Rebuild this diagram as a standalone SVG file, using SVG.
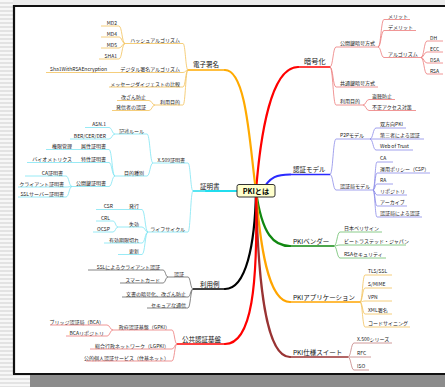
<svg xmlns="http://www.w3.org/2000/svg" width="445" height="387" viewBox="0 0 445 387">
<defs>
<pattern id="stripes" width="4" height="4" patternUnits="userSpaceOnUse"><rect width="4" height="4" fill="#f7f7f7"/><rect y="2" width="4" height="2" fill="#e3e3e3"/></pattern>
<style>
.t{font-family:"Noto Sans CJK JP","Noto Sans",sans-serif;font-size:5px;fill:#222}
.tm{font-family:"Noto Sans CJK JP","Noto Sans",sans-serif;font-size:6.5px;fill:#111}
.te{text-anchor:end}
.u{fill:none;stroke-width:0.8}
.um{fill:none;stroke-width:1.5}
.m{fill:none;stroke-width:2.2;stroke-linecap:round}
.cr{stroke:#ec7b7b}.cb{stroke:#8c8ce8}.cg{stroke:#6cbf6c}.co{stroke:#f3c15a}.cn{stroke:#c48282}.cy{stroke:#7fe5f2}.ck{stroke:#666}
</style>
</defs>
<rect width="445" height="387" fill="url(#stripes)"/>
<rect x="13" y="0" width="432" height="6" fill="#ececec"/>
<rect x="30" y="375" width="415" height="12" fill="#8c8c8c"/>
<rect x="15" y="7" width="430" height="366" fill="#fff"/>
<path d="M14 374 V6 H445" fill="none" stroke="#111" stroke-width="2.2"/>
<path d="M13 374 H445" stroke="#111" stroke-width="2.2"/>

<g id="connectors">
<path class="m" stroke="#ff0000" d="M256 191 C260 140 270 67 298 67"/>
<path class="m" stroke="#ffaa00" d="M256 191 C250 150 247 70 225 70"/>
<path class="m" stroke="#22ddee" d="M240 191 H206"/>
<path class="m" stroke="#2a2aff" stroke-width="1.6" d="M262 191 C270 176 278 174.5 290 174.5"/>
<path class="m" stroke="#118811" d="M256 191 C262 235 274 246 290 246"/>
<path class="m" stroke="#ffa500" d="M256 191 C260 245 268 302 290 302"/>
<path class="m" stroke="#993333" d="M256 191 C258 285 266 357 290 357"/>
<path class="m" stroke="#000000" d="M256 191 C255 245 246 289 225 289"/>
<path class="m" stroke="#ff0000" d="M256 191 C258 285 252 344 225 344"/>

<g class="u cr">
<path d="M330 67 C333 67 333 47 336 47 M330 67 C333 67 333 87 336 87 M330 67 C333 67 333 105 336 105"/>
<path d="M378 47 C381 47 381 19.5 384 19.5 M378 47 C381 47 381 30.5 384 30.5 M378 47 C381 47 381 57.5 384 57.5"/>
<path d="M421 57.5 C424 57.5 424 41 427 41 M421 57.5 C424 57.5 424 52 427 52 M421 57.5 C424 57.5 424 63 427 63 M421 57.5 C424 57.5 424 74 427 74"/>
<path d="M363 105 C366 105 366 99.5 369 99.5 M363 105 C366 105 366 110.5 369 110.5"/>
</g>
<g class="u cb">
<path d="M330 174.5 C333 174.5 333 139 336 139 M330 174.5 C333 174.5 333 190 336 190"/>
<path d="M370 139 C373 139 373 128 376 128 M370 139 H376 M370 139 C373 139 373 150 376 150"/>
<path d="M373 190 C375 190 375 162 377 162 M373 190 C375 190 375 173 377 173 M373 190 C375 190 375 184 377 184 M373 190 C375 190 375 195 377 195 M373 190 C375 190 375 206 377 206 M373 190 C375 190 375 217 377 217"/>
</g>
<g class="u cg">
<path d="M334 246 C337 246 337 232 340 232 M334 246 C337 246 337 245 340 245 M334 246 C337 246 337 258 340 258"/>
</g>
<g class="u co">
<path d="M360 302 C362.5 302 362.5 275 365 275 M360 302 C362.5 302 362.5 288 365 288 M360 302 C362.5 302 362.5 301 365 301 M360 302 C362.5 302 362.5 314 365 314 M360 302 C362.5 302 362.5 327 365 327"/>
<path d="M188 70 C185.5 70 185.5 43.5 183 43.5 M188 70 C185.5 70 185.5 72.5 183 72.5 M188 70 C185.5 70 185.5 87 183 87 M188 70 C185.5 70 185.5 105 183 105"/>
<path d="M125 43.5 C122 43.5 122 26 119 26 M125 43.5 C122 43.5 122 37 119 37 M125 43.5 C122 43.5 122 48 119 48 M125 43.5 C122 43.5 122 59 119 59"/>
<path d="M115 72.5 H109"/>
<path d="M155 105 C152 105 152 100.5 149 100.5 M155 105 C152 105 152 110.5 149 110.5"/>
</g>
<g class="u cn">
<path d="M348 357 C351 357 351 343 354 343 M348 357 H354 M348 357 C351 357 351 370 354 370"/>
</g>
<g class="u cy">
<path d="M193 191 C190.5 191 190.5 163 188 163 M193 191 C190.5 191 190.5 232 188 232"/>
<path d="M153 163 C150 163 150 134 147 134 M153 163 C150 163 150 176 147 176"/>
<path d="M115 134 C112 134 112 127.5 109 127.5 M115 134 C112 134 112 139 109 139"/>
<path d="M115 176 C112 176 112 149.5 109 149.5 M115 176 C112 176 112 162.5 109 162.5 M115 176 C112 176 112 186.5 109 186.5"/>
<path d="M72 186.5 C69 186.5 69 176 66 176 M72 186.5 C69 186.5 69 187 66 187 M72 186.5 C69 186.5 69 197 66 197"/>
<path d="M148 232 C145 232 145 209.5 142 209.5 M148 232 C145 232 145 227 142 227 M148 232 C145 232 145 243 142 243 M148 232 C145 232 145 254.5 142 254.5"/>
<path d="M118 227 C115.5 227 115.5 221 113 221 M118 227 C115.5 227 115.5 232 113 232"/>
</g>
<g class="u ck">
<path d="M193 289 C190.5 289 190.5 277 188 277 M193 289 C190.5 289 190.5 297 188 297 M193 289 C190.5 289 190.5 308 188 308"/>
<path d="M168 277 C165.5 277 165.5 270 163 270 M168 277 C165.5 277 165.5 283 163 283"/>
</g>
<g class="u cr">
<path d="M177 344 C174.5 344 174.5 330 172 330 M177 344 C174.5 344 174.5 349 172 349 M177 344 C174.5 344 174.5 361 172 361"/>
<path d="M113 330 C110 330 110 325 107 325 M113 330 C110 330 110 336 107 336"/>
</g>
</g>

<g id="n-angou"><text class="tm" x="304" y="64" style="font-size:7.2px">暗号化</text><path class="um" stroke="#ff0000" d="M298 67 H330"/></g>
<g id="n-kokai"><text class="t" x="340" y="45">公開鍵暗号方式</text><path class="u cr" d="M336 47 H378"/></g>
<g id="n-merit"><text class="t" x="388" y="18">メリット</text><path class="u cr" d="M384 19.5 H410"/></g>
<g id="n-demerit"><text class="t" x="388" y="29">デメリット</text><path class="u cr" d="M384 30.5 H416"/></g>
<g id="n-algo"><text class="t" x="388" y="56">アルゴリズム</text><path class="u cr" d="M384 57.5 H421"/></g>
<g id="n-dh"><text class="t" x="430" y="39.5">DH</text><path class="u cr" d="M427 41 H443"/></g>
<g id="n-ecc"><text class="t" x="430" y="50.5">ECC</text><path class="u cr" d="M427 52 H443"/></g>
<g id="n-dsa"><text class="t" x="430" y="61.5">DSA</text><path class="u cr" d="M427 63 H443"/></g>
<g id="n-rsa"><text class="t" x="430" y="72.5">RSA</text><path class="u cr" d="M427 74 H443"/></g>
<g id="n-kyotsu"><text class="t" x="340" y="85">共通鍵暗号方式</text><path class="u cr" d="M336 87 H378"/></g>
<g id="n-riyo1"><text class="t" x="340" y="103">利用目的</text><path class="u cr" d="M336 105 H363"/></g>
<g id="n-tocho"><text class="t" x="372" y="98">盗聴防止</text><path class="u cr" d="M369 99.5 H395"/></g>
<g id="n-fusei"><text class="t" x="372" y="109">不正アクセス対策</text><path class="u cr" d="M369 110.5 H416"/></g>

<g id="n-ninsho"><text class="tm" x="293" y="171.5">認証モデル</text><path class="um" stroke="#2a2aff" d="M290 174.5 H330"/></g>
<g id="n-p2p"><text class="t" x="340" y="137">P2Pモデル</text><path class="u cb" d="M336 139 H370"/></g>
<g id="n-sohoko"><text class="t" x="380" y="126">双方向PKI</text><path class="u cb" d="M376 128 H406"/></g>
<g id="n-daisan"><text class="t" x="380" y="137">第三者による認証</text><path class="u cb" d="M376 139 H424"/></g>
<g id="n-wot"><text class="t" x="380" y="148">Web of Trust</text><path class="u cb" d="M376 150 H413"/></g>
<g id="n-cam"><text class="t" x="340" y="188">認証局モデル</text><path class="u cb" d="M336 190 H373"/></g>
<g id="n-ca"><text class="t" x="380" y="160">CA</text><path class="u cb" d="M377 162 H393"/></g>
<g id="n-unyo"><text class="t" x="380" y="171">運用ポリシー（CSP）</text><path class="u cb" d="M377 173 H430"/></g>
<g id="n-ra"><text class="t" x="380" y="182">RA</text><path class="u cb" d="M377 184 H393"/></g>
<g id="n-repo"><text class="t" x="380" y="193">リポジトリ</text><path class="u cb" d="M377 195 H407"/></g>
<g id="n-archive"><text class="t" x="380" y="204">アーカイブ</text><path class="u cb" d="M377 206 H407"/></g>
<g id="n-cani"><text class="t" x="380" y="215">認証局による認証</text><path class="u cb" d="M377 217 H422"/></g>

<g id="n-vendor"><text class="tm" x="293" y="243.5">PKIベンダー</text><path class="um" stroke="#118811" d="M290 246 H334"/></g>
<g id="n-verisign"><text class="t" x="344" y="230">日本ベリサイン</text><path class="u cg" d="M340 232 H382"/></g>
<g id="n-betrusted"><text class="t" x="344" y="243">ビートラステッド・ジャパン</text><path class="u cg" d="M340 245 H406"/></g>
<g id="n-rsasec"><text class="t" x="344" y="256">RSAセキュリティ</text><path class="u cg" d="M340 258 H386"/></g>

<g id="n-app"><text class="tm" x="293" y="299.5">PKIアプリケーション</text><path class="um" stroke="#ffa500" d="M290 302 H360"/></g>
<g id="n-tls"><text class="t" x="368" y="273">TLS/SSL</text><path class="u co" d="M365 275 H392"/></g>
<g id="n-smime"><text class="t" x="368" y="286">S/MIME</text><path class="u co" d="M365 288 H392"/></g>
<g id="n-vpn"><text class="t" x="368" y="299">VPN</text><path class="u co" d="M365 301 H392"/></g>
<g id="n-xml"><text class="t" x="368" y="312">XML署名</text><path class="u co" d="M365 314 H392"/></g>
<g id="n-code"><text class="t" x="368" y="325">コードサイニング</text><path class="u co" d="M365 327 H410"/></g>

<g id="n-suite"><text class="tm" x="293" y="354.5">PKI仕様スイート</text><path class="um" stroke="#993333" d="M290 357 H348"/></g>
<g id="n-x500"><text class="t" x="357" y="341">X.500シリーズ</text><path class="u cn" d="M354 343 H392"/></g>
<g id="n-rfc"><text class="t" x="357" y="355">RFC</text><path class="u cn" d="M354 357 H371"/></g>
<g id="n-iso"><text class="t" x="357" y="368">ISO</text><path class="u cn" d="M354 370 H369"/></g>

<g id="n-denshi"><text class="tm" x="193" y="67">電子署名</text><path class="um" stroke="#ffaa00" d="M188 70 H225"/></g>
<g id="n-hash"><text class="t te" x="180" y="42">ハッシュアルゴリズム</text><path class="u co" d="M125 43.5 H183"/></g>
<g id="n-md2"><text class="t te" x="117" y="24.5">MD2</text><path class="u co" d="M101 26 H119"/></g>
<g id="n-md4"><text class="t te" x="117" y="35.5">MD4</text><path class="u co" d="M101 37 H119"/></g>
<g id="n-md5"><text class="t te" x="117" y="46.5">MD5</text><path class="u co" d="M101 48 H119"/></g>
<g id="n-sha1"><text class="t te" x="117" y="57.5">SHA1</text><path class="u co" d="M99 59 H119"/></g>
<g id="n-dsig"><text class="t te" x="180" y="71">デジタル署名アルゴリズム</text><path class="u co" d="M115 72.5 H183"/></g>
<g id="n-sha1rsa"><text class="t te" x="107" y="71">Sha1WithRSAEncryption</text><path class="u co" d="M46 72.5 H109"/></g>
<g id="n-msg"><text class="t te" x="180" y="85.5">メッセージダイジェストの比較</text><path class="u co" d="M109 87 H183"/></g>
<g id="n-riyo2"><text class="t te" x="180" y="103.5">利用目的</text><path class="u co" d="M155 105 H183"/></g>
<g id="n-kaizan"><text class="t te" x="146" y="99">改ざん防止</text><path class="u co" d="M117 100.5 H149"/></g>
<g id="n-hasshin"><text class="t te" x="146" y="109">発信者の認証</text><path class="u co" d="M112 110.5 H149"/></g>

<g id="n-shomei"><text class="tm" x="200" y="188.5">証明書</text><path class="um" stroke="#22ddee" d="M193 191 H237"/></g>
<g id="n-x509"><text class="t te" x="185" y="161.5">X.509証明書</text><path class="u cy" d="M153 163 H188"/></g>
<g id="n-kijutsu"><text class="t te" x="144" y="132.5">記述ルール</text><path class="u cy" d="M115 134 H147"/></g>
<g id="n-asn"><text class="t te" x="106" y="126">ASN.1</text><path class="u cy" d="M85 127.5 H109"/></g>
<g id="n-ber"><text class="t te" x="106" y="137.5">BER/CER/DER</text><path class="u cy" d="M70 139 H109"/></g>
<g id="n-mokuteki"><text class="t te" x="144" y="174.5">目的種別</text><path class="u cy" d="M115 176 H147"/></g>
<g id="n-zokusei"><text class="t te" x="106" y="148">属性証明書</text><path class="u cy" d="M77 149.5 H109"/></g>
<g id="n-kengen"><text class="t te" x="72" y="148">権限管理</text><path class="u cy" d="M46 149.5 H77"/></g>
<g id="n-tokusei"><text class="t te" x="106" y="161">特性証明書</text><path class="u cy" d="M77 162.5 H109"/></g>
<g id="n-bio"><text class="t te" x="72" y="161">バイオメトリクス</text><path class="u cy" d="M27 162.5 H77"/></g>
<g id="n-kokaicert"><text class="t te" x="106" y="185">公開鍵証明書</text><path class="u cy" d="M72 186.5 H109"/></g>
<g id="n-cacert"><text class="t te" x="63" y="174.5">CA証明書</text><path class="u cy" d="M25 176 H66"/></g>
<g id="n-client"><text class="t te" x="64" y="185.5">クライアント証明書</text><path class="u cy" d="M18 187 H66"/></g>
<g id="n-sslsrv"><text class="t te" x="64" y="195.5">SSLサーバー証明書</text><path class="u cy" d="M18 197 H66"/></g>
<g id="n-life"><text class="t te" x="185" y="230.5">ライフサイクル</text><path class="u cy" d="M148 232 H188"/></g>
<g id="n-hakko"><text class="t te" x="139" y="208">発行</text><path class="u cy" d="M118 209.5 H142"/></g>
<g id="n-csr"><text class="t te" x="113" y="208">CSR</text><path class="u cy" d="M96 209.5 H118"/></g>
<g id="n-shikko"><text class="t te" x="139" y="225.5">失効</text><path class="u cy" d="M118 227 H142"/></g>
<g id="n-crl"><text class="t te" x="110" y="219.5">CRL</text><path class="u cy" d="M96 221 H113"/></g>
<g id="n-ocsp"><text class="t te" x="110" y="230.5">OCSP</text><path class="u cy" d="M93 232 H113"/></g>
<g id="n-yuko"><text class="t te" x="139" y="241.5">有効期限切れ</text><path class="u cy" d="M104 243 H142"/></g>
<g id="n-koshin"><text class="t te" x="139" y="253">更新</text><path class="u cy" d="M118 254.5 H142"/></g>

<g id="n-riyorei"><text class="tm" x="200" y="286.5">利用例</text><path class="um" stroke="#000000" d="M193 289 H225"/></g>
<g id="n-ninsho2"><text class="t te" x="184" y="275.5">認証</text><path class="u ck" d="M168 277 H188"/></g>
<g id="n-sslclient"><text class="t te" x="160" y="268.5">SSLによるクライアント認証</text><path class="u ck" d="M88 270 H163"/></g>
<g id="n-smart"><text class="t te" x="160" y="281.5">スマートカード</text><path class="u ck" d="M120 283 H163"/></g>
<g id="n-bunsho"><text class="t te" x="186" y="295.5">文書の暗号化、改ざん防止</text><path class="u ck" d="M122 297 H188"/></g>
<g id="n-secure"><text class="t te" x="186" y="306.5">セキュアな通信</text><path class="u ck" d="M147 308 H188"/></g>

<g id="n-kokyo"><text class="tm" x="182" y="341.5">公共認証基盤</text><path class="um" stroke="#ff0000" d="M177 344 H225"/></g>
<g id="n-gpki"><text class="t te" x="170" y="328.5">政府認証基盤（GPKI）</text><path class="u cr" d="M113 330 H172"/></g>
<g id="n-bca"><text class="t te" x="104" y="323.5">ブリッジ認証局（BCA）</text><path class="u cr" d="M50 325 H107"/></g>
<g id="n-bcarepo"><text class="t te" x="104" y="334.5">BCAリポジトリ</text><path class="u cr" d="M66 336 H107"/></g>
<g id="n-lgpki"><text class="t te" x="169" y="347.5">総合行政ネットワーク（LGPKI）</text><path class="u cr" d="M90 349 H172"/></g>
<g id="n-jyuki"><text class="t te" x="169" y="359.5">公的個人認証サービス（住基ネット）</text><path class="u cr" d="M86 361 H172"/></g>

<g id="n-center"><rect x="237" y="184.5" width="38" height="12.5" rx="2" fill="#ffffcc" stroke="#333" stroke-width="1"/><text x="256" y="193.5" text-anchor="middle" style="font-family:'Noto Sans CJK JP','Noto Sans',sans-serif;font-size:7.2px;font-weight:bold;fill:#000">PKIとは</text></g>
</svg>
